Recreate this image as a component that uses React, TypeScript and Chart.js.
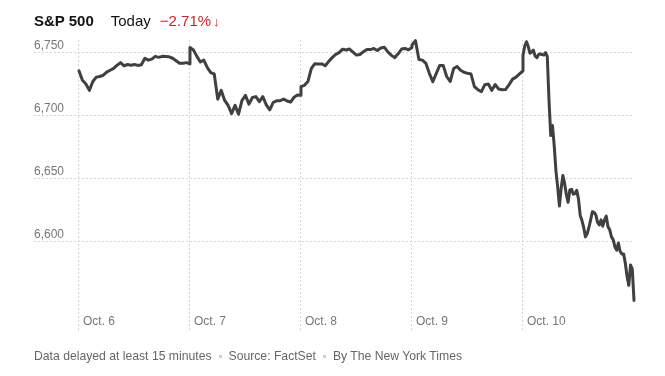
import { useEffect, useRef } from "react";
import { Chart, registerables } from "chart.js";

Chart.register(...registerables);

const FONT = "'Liberation Sans', Arial, Helvetica, sans-serif";

const dayLabels = ["Oct. 6", "Oct. 7", "Oct. 8", "Oct. 9", "Oct. 10"];

// Intraday S&P 500 levels, sampled at even intervals from open to close
const oct6 = [6735.5, 6728, 6725, 6720, 6727, 6730.5, 6731, 6732, 6734.5, 6736, 6737.5, 6740, 6742, 6739.5, 6740.5, 6740, 6740.5, 6739.8, 6740.3, 6745.5, 6744, 6744.8, 6747, 6746.2, 6747, 6746.8, 6746.6, 6745.5, 6743.5, 6741.5, 6741.5, 6742, 6741];
const oct7 = [6754, 6752, 6747, 6742.5, 6744, 6738, 6734, 6733, 6713, 6720, 6712, 6708, 6701.5, 6708, 6701, 6712, 6716, 6709, 6714.3, 6715, 6711, 6715, 6708.5, 6704.5, 6710.5, 6711.7, 6711.8, 6713, 6711.5, 6710.7, 6714.5, 6716.3, 6716];
const oct8 = [6723, 6724, 6727, 6737.5, 6741.2, 6741, 6741, 6739.5, 6743, 6746, 6748.5, 6750, 6752.7, 6752, 6752.8, 6750.3, 6748, 6748.5, 6750.7, 6752.5, 6752.4, 6753.3, 6751.7, 6753.7, 6754.3, 6750.7, 6748, 6746, 6749, 6752.8, 6753.3, 6752.2, 6754];
const oct9 = [6756, 6759.5, 6744.5, 6744, 6741.5, 6733.5, 6726.8, 6733.5, 6739.8, 6739.8, 6731, 6727, 6737.3, 6739, 6736, 6734.4, 6733.5, 6733, 6723, 6720.5, 6719, 6724.5, 6725, 6720, 6724.6, 6721, 6720.5, 6720.7, 6724.5, 6728.9, 6730.5, 6733, 6735.5];
const oct10 = [6748, 6755, 6758.6, 6755, 6749.5, 6750.5, 6752, 6747.2, 6745.9, 6748.4, 6749, 6748.4, 6748, 6750, 6747, 6712, 6684, 6692, 6676, 6656, 6643, 6628, 6642, 6652.3, 6646, 6637, 6631, 6640.8, 6641.3, 6637.5, 6638, 6640.5, 6633.5, 6620.5, 6616.5, 6611, 6603.5, 6606, 6611, 6617, 6623.5, 6623, 6621, 6615, 6613, 6617, 6612, 6617, 6620, 6611.5, 6609.3, 6603.5, 6601.3, 6595.5, 6593, 6598.7, 6592, 6590, 6590, 6582.5, 6572, 6565, 6581.2, 6578, 6553];

const yTicks = [6600, 6650, 6700, 6750];
const yMin = 6529.5;
const yMax = 6760;
const xMin = -0.405;

const dailySeries = [oct6, oct7, oct8, oct9, oct10];

export default function App() {
  const ref = useRef<HTMLCanvasElement>(null);

  useEffect(() => {
    document.body.style.margin = "0";
    const canvas = ref.current;
    if (!canvas) return;
    const points = dailySeries.flatMap((vals, d) =>
      vals.map((v, i) => ({ x: d + i / (vals.length - 1), y: v }))
    );
    const gridColor = "#d6d6d6";
    const chart = new Chart(canvas, {
      type: "line",
      data: {
        datasets: [
          {
            data: points,
            borderColor: "#404040",
            borderWidth: 3,
            pointRadius: 0,
            tension: 0,
            borderJoinStyle: "round",
            borderCapStyle: "round",
            clip: false,
          } as any,
        ],
      },
      options: {
        animation: false,
        responsive: false,
        maintainAspectRatio: false,
        layout: { padding: { left: 34, right: 31, top: 40, bottom: 44 } },
        plugins: { legend: { display: false }, tooltip: { enabled: false } },
        scales: {
          x: {
            type: "linear",
            min: xMin,
            max: dayLabels.length,
            afterBuildTicks: (axis: any) => {
              axis.ticks = dayLabels.map((_, i) => ({ value: i }));
            },
            ticks: {
              mirror: true,
              align: "start",
              labelOffset: 4,
              padding: 1,
              autoSkip: false,
              maxRotation: 0,
              color: "#777",
              font: { family: FONT, size: 12 },
              callback: (v: any) => dayLabels[Number(v)] ?? "",
            },
            grid: { drawTicks: false, color: gridColor, lineWidth: 1 },
            border: { display: false, dash: [2, 2] },
          },
          y: {
            min: yMin,
            max: yMax,
            afterBuildTicks: (axis: any) => {
              axis.ticks = yTicks.map((v) => ({ value: v }));
            },
            ticks: {
              mirror: true,
              padding: 0,
              labelOffset: -7,
              color: "#777",
              font: { family: FONT, size: 12 },
              callback: (v: any) => Number(v).toLocaleString("en-US"),
            },
            grid: { drawTicks: false, color: gridColor, lineWidth: 1 },
            border: { display: false, dash: [2, 2] },
          },
        },
      } as any,
    });
    return () => chart.destroy();
  }, []);

  const sep = (
    <span
      style={{
        display: "inline-block",
        width: 3,
        height: 3,
        background: "#d0d0d0",
        margin: "0 7px",
        verticalAlign: "middle",
      }}
    />
  );

  return (
    <div style={{ position: "relative", width: 665, height: 376, fontFamily: FONT, background: "#fff" }}>
      <canvas ref={ref} width={665} height={376} style={{ position: "absolute", left: 0, top: 0, width: 665, height: 376 }} />
      <div style={{ position: "absolute", left: 34, top: 11, fontSize: 15, lineHeight: "20px", whiteSpace: "nowrap" }}>
        <span style={{ fontWeight: 700, color: "#121212" }}>S&amp;P 500</span>
        <span style={{ marginLeft: 17, color: "#121212" }}>Today</span>
        <span style={{ marginLeft: 9, color: "#c0272d" }}>−2.71%</span>
        <span style={{ marginLeft: 2, color: "#c0272d", fontSize: 13 }}>↓</span>
      </div>
      <div style={{ position: "absolute", left: 34, top: 348, fontSize: 12.2, lineHeight: "16px", color: "#666", whiteSpace: "nowrap" }}>
        Data delayed at least 15 minutes{sep}Source: FactSet{sep}By The New York Times
      </div>
    </div>
  );
}
